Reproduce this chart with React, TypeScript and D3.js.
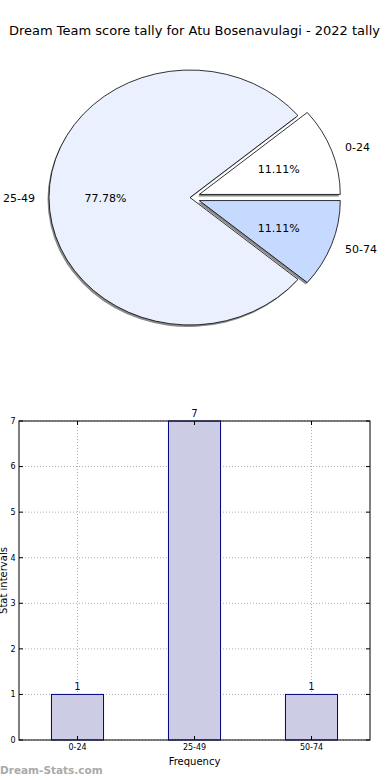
import React from "react";
import * as d3 from "d3";

const W = 390;
const H = 780;

const title = "Dream Team score tally for Atu Bosenavulagi - 2022 tally";
const categories = ["0-24", "25-49", "50-74"];
const counts = [1, 7, 1];
const pieColors = ["#ffffff", "#eaf0fd", "#c6d9fe"];
const explode = [0.07, 0, 0.07];
const yTicks = [0, 1, 2, 3, 4, 5, 6, 7];
const xLabel = "Frequency";
const yLabel = "Stat intervals";
const watermark = "Dream-Stats.com";

const FONT = "'DejaVu Sans', Verdana, sans-serif";

export default function App() {
  // Pie geometry
  const cx = 190;
  const cy = 197.5;
  const rx = 141;
  const ry = 127.5;
  const total = d3.sum(counts);
  const pie = d3
    .pie<number>()
    .sort(null)
    .startAngle(Math.PI / 2)
    .endAngle(Math.PI / 2 - 2 * Math.PI);
  const arcs = pie(counts);
  const arcGen = d3.arc<d3.PieArcDatum<number>>().innerRadius(0).outerRadius(1);

  const slices = arcs.map((a, i) => {
    const mid = (a.startAngle + a.endAngle) / 2; // d3 angle, clockwise from north
    const ux = Math.sin(mid);
    const uy = -Math.cos(mid);
    const ox = explode[i] * rx * ux;
    const oy = explode[i] * ry * uy;
    return { a, i, ux, uy, ox, oy };
  });

  // Bar chart geometry
  const left = 19;
  const right = 370;
  const top = 421;
  const bottom = 740;
  const x = d3.scaleBand<string>().domain(categories).range([left, right]);
  const y = d3.scaleLinear().domain([0, 7]).range([bottom, top]);
  const barW = x.bandwidth() * 0.445;

  return (
    <div style={{ position: "absolute", left: 0, top: 0 }}>
      <svg width={W} height={H} style={{ display: "block", background: "#fff" }}>
        <text x={194.5} y={35} textAnchor="middle" fontFamily={FONT} fontSize={13} fill="#000">
          {title}
        </text>

        {/* shadows */}
        {slices.map((s) => (
          <path
            key={"sh" + s.i}
            d={arcGen(s.a) || ""}
            transform={`translate(${cx + s.ox - 1.5},${cy + s.oy + 2}) scale(${rx},${ry})`}
            fill="#8a8a8a"
          />
        ))}
        {/* slices */}
        {slices.map((s) => (
          <path
            key={"sl" + s.i}
            d={arcGen(s.a) || ""}
            transform={`translate(${cx + s.ox},${cy + s.oy}) scale(${rx},${ry})`}
            fill={pieColors[s.i]}
            stroke="#000"
            strokeWidth={0.8}
            vectorEffect="non-scaling-stroke"
            strokeLinejoin="round"
          />
        ))}
        {/* labels */}
        {slices.map((s) => {
          const lx = cx + s.ox + 1.1 * rx * s.ux;
          const ly = cy + s.oy + 1.1 * ry * s.uy;
          const px = cx + s.ox + 0.6 * rx * s.ux;
          const py = cy + s.oy + 0.6 * ry * s.uy;
          const pct = ((counts[s.i] / total) * 100).toFixed(2) + "%";
          return (
            <g key={"lb" + s.i} fontFamily={FONT} fontSize={11} fill="#000">
              <text x={lx} y={ly + 1} dy="0.35em" textAnchor={s.ux >= 0 ? "start" : "end"}>
                {categories[s.i]}
              </text>
              <text x={px} y={py + 1} dy="0.35em" textAnchor="middle">
                {pct}
              </text>
            </g>
          );
        })}

        {/* Bar chart grid */}
        {yTicks.map((t) => (
          <line
            key={"gy" + t}
            x1={left}
            x2={right}
            y1={y(t)}
            y2={y(t)}
            stroke="#b0b0b0"
            strokeWidth={1}
            strokeDasharray="1,2"
          />
        ))}
        {categories.map((c) => {
          const xc = (x(c) as number) + x.bandwidth() / 2;
          return (
            <line
              key={"gx" + c}
              x1={xc}
              x2={xc}
              y1={top}
              y2={bottom}
              stroke="#b0b0b0"
              strokeWidth={1}
              strokeDasharray="1,2"
            />
          );
        })}

        {/* bars */}
        {categories.map((c, i) => {
          const xc = (x(c) as number) + x.bandwidth() / 2;
          return (
            <g key={"bar" + c}>
              <rect
                x={xc - barW / 2}
                y={y(counts[i])}
                width={barW}
                height={bottom - y(counts[i])}
                fill="#ccccE5"
                stroke="#000080"
                strokeWidth={1}
              />
              <text
                x={xc}
                y={y(counts[i]) - 4}
                textAnchor="middle"
                fontFamily={FONT}
                fontSize={10}
                fill="#000080"
              >
                {counts[i]}
              </text>
            </g>
          );
        })}

        {/* frame */}
        <rect x={left} y={top} width={right - left} height={bottom - top} fill="none" stroke="#000" strokeWidth={1} />

        {/* y ticks */}
        {yTicks.map((t) => (
          <g key={"ty" + t}>
            <line x1={left} x2={left + 4} y1={y(t)} y2={y(t)} stroke="#000" />
            <line x1={right - 4} x2={right} y1={y(t)} y2={y(t)} stroke="#000" />
            <text
              x={15.5}
              y={y(t)}
              dy="0.35em"
              textAnchor="end"
              fontFamily={FONT}
              fontSize={8}
              fill="#000"
            >
              {t}
            </text>
          </g>
        ))}
        {/* x ticks */}
        {categories.map((c) => {
          const xc = (x(c) as number) + x.bandwidth() / 2;
          return (
            <g key={"tx" + c}>
              <line x1={xc} x2={xc} y1={bottom} y2={bottom - 4} stroke="#000" />
              <line x1={xc} x2={xc} y1={top} y2={top + 4} stroke="#000" />
              <text x={xc} y={750} textAnchor="middle" fontFamily={FONT} fontSize={8} fill="#000">
                {c}
              </text>
            </g>
          );
        })}

        <text x={194.5} y={764.5} textAnchor="middle" fontFamily={FONT} fontSize={10} fill="#000">
          {xLabel}
        </text>
        <text
          transform={`translate(7,${(top + bottom) / 2}) rotate(-90)`}
          textAnchor="middle"
          fontFamily={FONT}
          fontSize={10}
          fill="#000"
        >
          {yLabel}
        </text>

        <text x={0} y={773.5} fontFamily={FONT} fontSize={10.5} fontWeight="bold" fill="#aaaaaa">
          {watermark}
        </text>
      </svg>
    </div>
  );
}
